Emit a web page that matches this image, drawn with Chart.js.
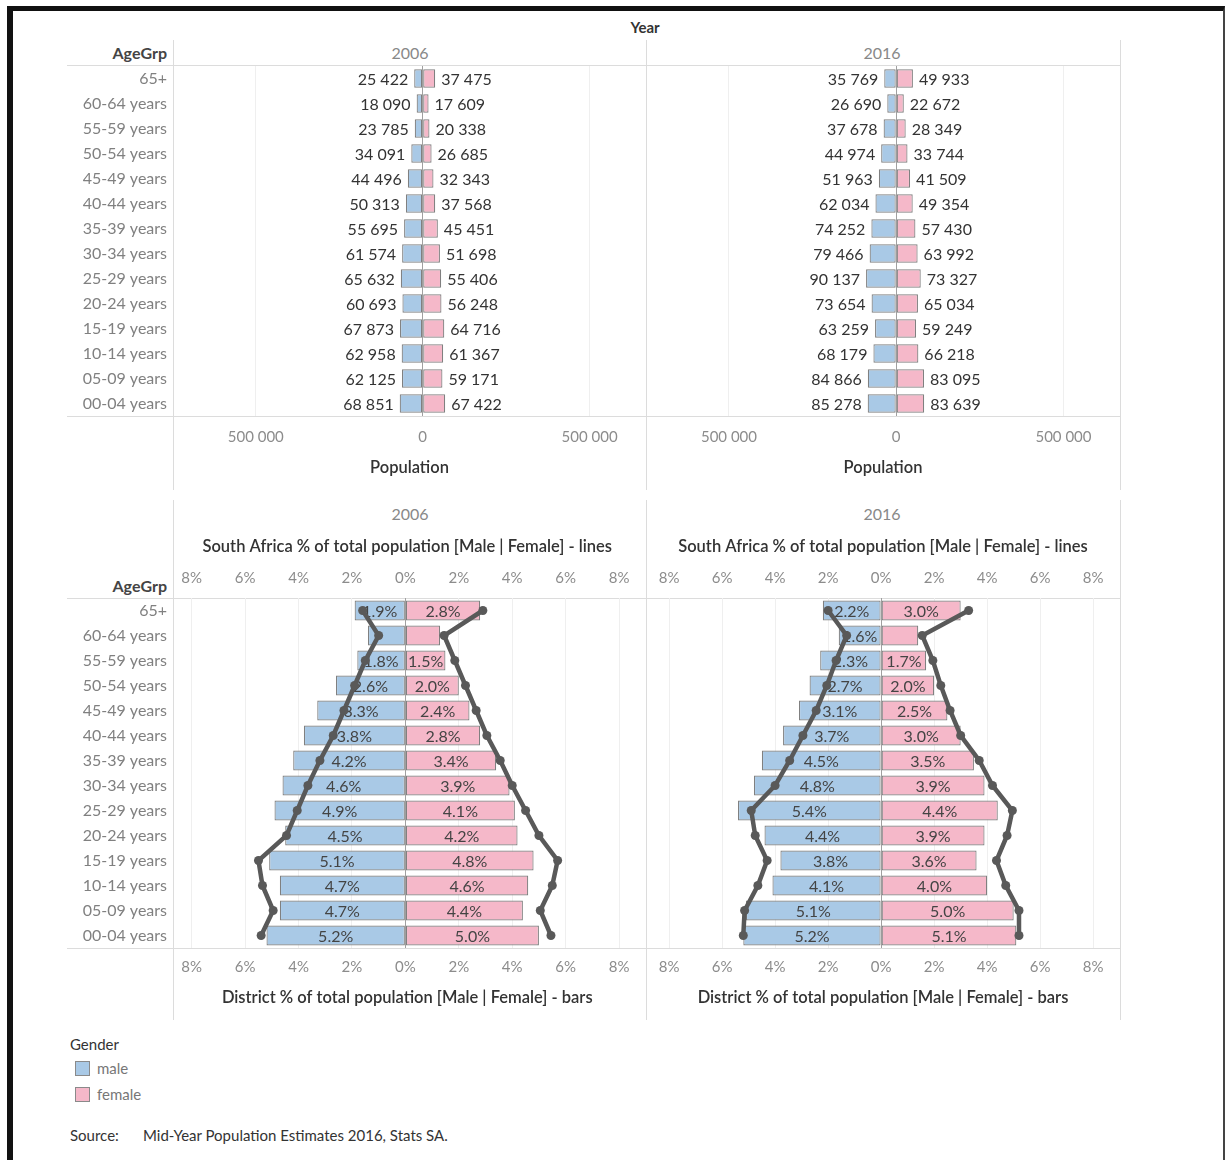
<!DOCTYPE html>
<html><head><meta charset="utf-8">
<script src="https://cdn.jsdelivr.net/npm/chart.js@4.4.1/dist/chart.umd.min.js"></script>
<style>
body{margin:0;width:1227px;height:1160px;background:#fff;font-family:Lato,"Open Sans",sans-serif;position:relative;overflow:hidden}
.t{position:absolute;white-space:nowrap;line-height:1}
.c{transform:translate(-50%,-50%)}
.r{transform:translate(-100%,-50%)}
.l{transform:translate(0,-50%)}
.hl{position:absolute;height:1px;background:#dcdcdc}
.vl{position:absolute;width:1px;background:#dcdcdc}
canvas{position:absolute}
</style></head><body>
<div style="position:absolute;left:7px;top:6px;width:1210px;height:1160px;border-left:6px solid #111;border-top:5px solid #111;border-right:2px solid #444"></div>

<div class="hl" style="left:67px;top:65px;width:1053px"></div>
<div class="hl" style="left:67px;top:416px;width:1053px"></div>
<div class="hl" style="left:67px;top:598px;width:1053px"></div>
<div class="hl" style="left:67px;top:948px;width:1053px"></div>
<div class="vl" style="left:173px;top:40px;height:450px"></div>
<div class="vl" style="left:646px;top:40px;height:450px"></div>
<div class="vl" style="left:1120px;top:40px;height:450px"></div>
<div class="vl" style="left:173px;top:500px;height:520px"></div>
<div class="vl" style="left:646px;top:500px;height:520px"></div>
<div class="vl" style="left:1120px;top:500px;height:520px"></div>

<div class="t c" style="left:645px;top:27px;font-size:15px;font-weight:bold;color:#333">Year</div>
<div class="t r" style="left:167px;top:53px;font-size:16px;font-weight:bold;color:#444">AgeGrp</div>
<div class="t c" style="left:410px;top:53px;font-size:16px;color:#888">2006</div>
<div class="t c" style="left:882px;top:53px;font-size:16px;color:#888">2016</div>
<div class="t c" style="left:410px;top:514px;font-size:16px;color:#888">2006</div>
<div class="t c" style="left:882px;top:514px;font-size:16px;color:#888">2016</div>
<div class="t r" style="left:167px;top:586px;font-size:16px;font-weight:bold;color:#444">AgeGrp</div>

<canvas id="c1" width="579" height="424" style="left:67px;top:66px"></canvas>
<canvas id="c2" width="474" height="424" style="left:646px;top:66px"></canvas>
<canvas id="c3" width="579" height="490" style="left:67px;top:530px"></canvas>
<canvas id="c4" width="474" height="490" style="left:646px;top:530px"></canvas>

<div class="t l" style="left:70px;top:1044px;font-size:15px;color:#333">Gender</div>
<div style="position:absolute;left:75px;top:1061px;width:13px;height:13px;background:#a9c9e6;border:1px solid #8a8a8a"></div>
<div class="t l" style="left:97px;top:1068px;font-size:15px;color:#777">male</div>
<div style="position:absolute;left:75px;top:1087px;width:13px;height:13px;background:#f5b8c9;border:1px solid #8a8a8a"></div>
<div class="t l" style="left:97px;top:1094px;font-size:15px;color:#777">female</div>
<div class="t l" style="left:70px;top:1135px;font-size:15px;color:#333">Source:</div>
<div class="t l" style="left:143px;top:1135px;font-size:15px;color:#333">Mid-Year Population Estimates 2016, Stats SA.</div>

<script>
const ageGroups = ['65+','60-64 years','55-59 years','50-54 years','45-49 years','40-44 years','35-39 years','30-34 years','25-29 years','20-24 years','15-19 years','10-14 years','05-09 years','00-04 years'];

const popMale2006   = [25422,18090,23785,34091,44496,50313,55695,61574,65632,60693,67873,62958,62125,68851];
const popFemale2006 = [37475,17609,20338,26685,32343,37568,45451,51698,55406,56248,64716,61367,59171,67422];
const popMale2016   = [35769,26690,37678,44974,51963,62034,74252,79466,90137,73654,63259,68179,84866,85278];
const popFemale2016 = [49933,22672,28349,33744,41509,49354,57430,63992,73327,65034,59249,66218,83095,83639];

const districtMale2006   = [1.9,1.4,1.8,2.6,3.3,3.8,4.2,4.6,4.9,4.5,5.1,4.7,4.7,5.2];
const districtFemale2006 = [2.8,1.3,1.5,2.0,2.4,2.8,3.4,3.9,4.1,4.2,4.8,4.6,4.4,5.0];
const districtMale2016   = [2.2,1.6,2.3,2.7,3.1,3.7,4.5,4.8,5.4,4.4,3.8,4.1,5.1,5.2];
const districtFemale2016 = [3.0,1.4,1.7,2.0,2.5,3.0,3.5,3.9,4.4,3.9,3.6,4.0,5.0,5.1];

const saMale2006   = [1.6,1.0,1.5,1.9,2.3,2.7,3.2,3.65,4.05,4.45,5.5,5.35,4.95,5.4];
const saFemale2006 = [2.9,1.45,1.85,2.25,2.65,3.05,3.55,4.0,4.5,5.0,5.7,5.5,5.05,5.45];
const saMale2016   = [2.0,1.3,1.7,2.05,2.45,2.95,3.45,4.0,4.9,4.75,4.3,4.65,5.15,5.2];
const saFemale2016 = [3.3,1.55,1.95,2.25,2.6,3.0,3.7,4.2,4.95,4.75,4.35,4.7,5.2,5.2];

const popTicks = [-500000, 0, 500000];
const pctTicks = [-8,-6,-4,-2,0,2,4,6,8];

const MALE = '#a9c9e6', FEMALE = '#f5b8c9', EDGE = '#808080', LINE = '#595959';
const FONT = 'Lato';

function fmtNum(v){ return String(Math.abs(v)).replace(/\B(?=(\d{3})+(?!\d))/g,' '); }

const labelPlugin = {
  id:'barLabels',
  afterDatasetDraw(chart, args){
    const ds = chart.data.datasets[args.index];
    if(!ds.labelMode) return;
    const ctx = chart.ctx;
    ctx.save();
    ctx.font = '16px ' + FONT;
    ctx.textBaseline = 'middle';
    args.meta.data.forEach((bar,i)=>{
      const raw = ds.rawValues[i];
      if(ds.labelMode === 'outside'){
        const left = bar.x < bar.base;
        ctx.fillStyle = '#333';
        ctx.textAlign = left ? 'right' : 'left';
        ctx.fillText(fmtNum(raw), bar.x + (left ? -6 : 6), bar.y + 1);
      } else {
        if(raw < 1.5) return;
        ctx.fillStyle = '#444';
        ctx.textAlign = 'center';
        ctx.fillText(raw.toFixed(1) + '%', (bar.x + bar.base)/2, bar.y + 1);
      }
    });
    ctx.restore();
  }
};

function barDs(vals, sign, color, mode, thick){
  return {
    type:'bar', label: sign<0?'male':'female',
    data: vals.map(v=>sign*v), rawValues: vals, labelMode: mode,
    backgroundColor: color, borderColor: EDGE, borderWidth: 1.2, borderSkipped: false,
    grouped: false, categoryPercentage: 1, barPercentage: thick, order: 2, xAxisID:'x', yAxisID:'y'
  };
}
function lineDs(vals, sign){
  return {
    type:'line', indexAxis:'y', data: vals.map(v=>sign*v),
    borderColor: LINE, backgroundColor: LINE, borderWidth: 4.5,
    pointRadius: 4.5, pointBackgroundColor: LINE, pointBorderWidth: 0,
    fill:false, tension:0, order: 1, xAxisID:'x2', yAxisID:'y'
  };
}

function yScale(showLabels){
  return {
    type:'category', display: showLabels, grid:{display:false, drawTicks:false}, border:{display:false},
    ticks:{color:'#808080', font:{family:FONT, size:16}, padding:6, autoSkip:false},
    afterFit(s){ if(showLabels) s.width = 106; s.paddingTop = 0; s.paddingBottom = 0; }
  };
}
function xScale(min, max, ticks, fmt, pos, pad, height, title, tpad, grid){
  return {
    type:'linear', position: pos, min, max,
    afterBuildTicks(s){ s.ticks = ticks.map(v=>({value:v})); },
    afterFit(s){ s.height = height; },
    grid: grid ? {display:true, drawTicks:false, color: c => c.tick && c.tick.value === 0 ? '#a0a0a0' : '#efefef', lineWidth:1} : {display:false, drawTicks:false},
    border:{display:false},
    ticks:{color:'#8c8c8c', font:{family:FONT, size:15}, padding: pad, maxRotation:0, autoSkip:false, callback: v => fmt(v)},
    title:{display:true, text:title, color:'#333', font:{family:FONT, size:16.5, weight:'600'}, padding: tpad}
  };
}

const popFmt = v => v === 0 ? '0' : fmtNum(v);
const pctFmt = v => Math.abs(v) + '%';

function popChart(id, male, female, showY){
  new Chart(document.getElementById(id), {
    type:'bar',
    data:{ labels: ageGroups, datasets:[ barDs(male,-1,MALE,'outside',0.74), barDs(female,1,FEMALE,'outside',0.74) ] },
    options:{
      indexAxis:'y', responsive:false, animation:false, devicePixelRatio:1,
      layout:{padding:0},
      plugins:{legend:{display:false}, tooltip:{enabled:false}},
      scales:{
        y: yScale(showY),
        x: xScale(-748000, 669000, popTicks, popFmt, 'bottom', 12, 74, 'Population', {top:0,bottom:12}, true)
      }
    },
    plugins:[labelPlugin]
  });
}
function pctChart(id, dm, df, sm, sf, showY){
  new Chart(document.getElementById(id), {
    type:'bar',
    data:{ labels: ageGroups, datasets:[
      barDs(dm,-1,MALE,'inside',0.8), barDs(df,1,FEMALE,'inside',0.8),
      lineDs(sm,-1), lineDs(sf,1)
    ]},
    options:{
      indexAxis:'y', responsive:false, animation:false, devicePixelRatio:1,
      layout:{padding:0},
      plugins:{legend:{display:false}, tooltip:{enabled:false}},
      scales:{
        y: yScale(showY),
        x: xScale(-8.7, 8.84, pctTicks, pctFmt, 'bottom', 10, 72, 'District % of total population [Male | Female] - bars', {top:0,bottom:12}, true),
        x2: xScale(-8.7, 8.84, pctTicks, pctFmt, 'top', 11, 68, 'South Africa % of total population [Male | Female] - lines', {top:7,bottom:0}, false)
      }
    },
    plugins:[labelPlugin]
  });
}

popChart('c1', popMale2006, popFemale2006, true);
popChart('c2', popMale2016, popFemale2016, false);
pctChart('c3', districtMale2006, districtFemale2006, saMale2006, saFemale2006, true);
pctChart('c4', districtMale2016, districtFemale2016, saMale2016, saFemale2016, false);
</script>
</body></html>
